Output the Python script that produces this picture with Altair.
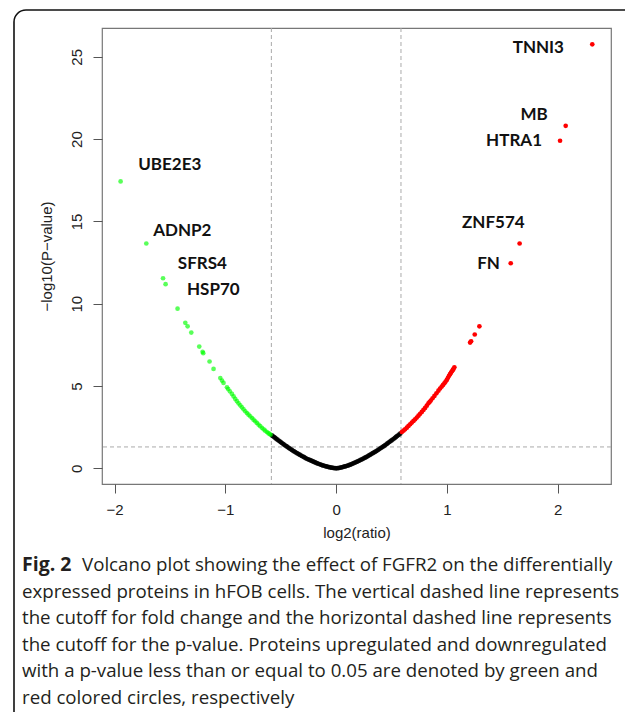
import altair as alt
import pandas as pd

# ---------------- data ----------------
# downregulated (green)
down_x = [-1.946, -1.714, -1.563, -1.540, -1.432, -1.362, -1.341, -1.308, -1.236, -1.206,
          -1.200, -1.143, -1.107, -1.046, -1.031, -1.017, -0.986, -0.975, -0.960, -0.941,
          -0.926, -0.911, -0.896, -0.881, -0.866, -0.851, -0.836, -0.821, -0.806, -0.791,
          -0.776, -0.760, -0.746, -0.731, -0.716, -0.701, -0.686, -0.670, -0.655, -0.641,
          -0.626, -0.612, -0.602, -0.592]
down_y = [17.43, 13.66, 11.55, 11.19, 9.70, 8.84, 8.63, 8.25, 7.40, 7.08,
          7.00, 6.49, 6.04, 5.49, 5.33, 5.19, 4.92, 4.82, 4.68, 4.52,
          4.37, 4.22, 4.08, 3.95, 3.83, 3.71, 3.59, 3.47, 3.36, 3.26,
          3.16, 3.06, 2.96, 2.86, 2.76, 2.66, 2.56, 2.46, 2.37, 2.29,
          2.21, 2.14, 2.09, 2.04]

# not significant (black)
none_x = [-0.58, -0.57, -0.56, -0.55, -0.54, -0.53, -0.52, -0.51, -0.50, -0.49, -0.48, -0.47,
          -0.46, -0.45, -0.44, -0.43, -0.42, -0.41, -0.40, -0.39, -0.38, -0.37, -0.36, -0.35,
          -0.34, -0.33, -0.32, -0.31, -0.30, -0.29, -0.28, -0.27, -0.26, -0.25, -0.24, -0.23,
          -0.22, -0.21, -0.20, -0.19, -0.18, -0.17, -0.16, -0.15, -0.14, -0.13, -0.12, -0.11,
          -0.10, -0.09, -0.08, -0.07, -0.06, -0.05, -0.04, -0.03, -0.02, -0.01, 0.00,
          0.01, 0.02, 0.03, 0.04, 0.05, 0.06, 0.07, 0.08, 0.09, 0.10, 0.11, 0.12, 0.13, 0.14,
          0.15, 0.16, 0.17, 0.18, 0.19, 0.20, 0.21, 0.22, 0.23, 0.24, 0.25, 0.26, 0.27, 0.28,
          0.29, 0.30, 0.31, 0.32, 0.33, 0.34, 0.35, 0.36, 0.37, 0.38, 0.39, 0.40, 0.41, 0.42,
          0.43, 0.44, 0.45, 0.46, 0.47, 0.48, 0.49, 0.50, 0.51, 0.52, 0.53, 0.54, 0.55, 0.56,
          0.57, 0.58]
none_y = [2.00, 1.95, 1.90, 1.85, 1.79, 1.74, 1.69, 1.64, 1.59, 1.54, 1.49, 1.44,
          1.39, 1.35, 1.30, 1.25, 1.21, 1.16, 1.12, 1.07, 1.03, 0.99, 0.95, 0.91,
          0.87, 0.83, 0.79, 0.75, 0.72, 0.68, 0.64, 0.60, 0.57, 0.54, 0.51, 0.48,
          0.45, 0.42, 0.39, 0.36, 0.33, 0.30, 0.28, 0.25, 0.23, 0.20, 0.18, 0.16,
          0.14, 0.12, 0.10, 0.08, 0.07, 0.05, 0.04, 0.03, 0.02, 0.01, 0.00,
          0.01, 0.02, 0.03, 0.05, 0.06, 0.08, 0.10, 0.12, 0.14, 0.16, 0.18, 0.21, 0.23, 0.26,
          0.29, 0.32, 0.35, 0.38, 0.41, 0.44, 0.47, 0.51, 0.54, 0.58, 0.61, 0.65, 0.68, 0.72,
          0.76, 0.80, 0.84, 0.88, 0.92, 0.96, 1.00, 1.04, 1.08, 1.13, 1.17, 1.22, 1.26, 1.31,
          1.35, 1.40, 1.45, 1.50, 1.55, 1.60, 1.65, 1.70, 1.75, 1.80, 1.85, 1.91, 1.96, 2.01,
          2.06, 2.12]

# upregulated (red)
up_x = [2.312, 2.072, 2.021, 1.656, 1.576, 1.293, 1.251, 1.218, 1.209,
        1.067, 1.060, 1.053, 1.045, 1.037, 1.028, 1.019, 1.009, 0.999, 0.988,
        0.977, 0.965, 0.953, 0.938, 0.923, 0.905, 0.887, 0.870, 0.854, 0.843,
        0.833, 0.818, 0.803, 0.788, 0.773, 0.758, 0.743, 0.728, 0.713, 0.698,
        0.683, 0.668, 0.653, 0.638, 0.622, 0.607, 0.593]
up_y = [25.76, 20.81, 19.90, 13.66, 12.46, 8.63, 8.13, 7.72, 7.64,
        6.14, 6.05, 5.98, 5.90, 5.82, 5.72, 5.62, 5.50, 5.37, 5.27,
        5.17, 5.07, 4.97, 4.85, 4.72, 4.56, 4.40, 4.26, 4.12, 4.03,
        3.95, 3.81, 3.67, 3.55, 3.43, 3.31, 3.20, 3.09, 2.98, 2.88,
        2.78, 2.68, 2.58, 2.47, 2.37, 2.29, 2.21]

label_text = ["TNNI3", "MB", "HTRA1", "ZNF574", "FN", "UBE2E3", "ADNP2", "SFRS4", "HSP70"]
label_x = [1.825, 1.786, 1.606, 1.419, 1.376, -1.502, -1.389, -1.208, -1.109]
label_y = [25.53, 21.49, 19.90, 14.89, 12.42, 18.40, 14.40, 12.40, 10.85]

fc_cutoffs = [-0.585, 0.585]
p_cutoff = [1.301]

x_ticks = [-2, -1, 0, 1, 2]
y_ticks = [0, 5, 10, 15, 20, 25]

caption_bold = "Fig. 2"
caption_first = "Volcano plot showing the effect of FGFR2 on the differentially"
caption_rest = [
    "expressed proteins in hFOB cells. The vertical dashed line represents",
    "the cutoff for fold change and the horizontal dashed line represents",
    "the cutoff for the p-value. Proteins upregulated and downregulated",
    "with a p-value less than or equal to 0.05 are denoted by green and",
    "red colored circles, respectively",
]

# ---------------- tables ----------------
pts = pd.concat([
    pd.DataFrame({"x": none_x, "y": none_y, "g": "none"}),
    pd.DataFrame({"x": down_x, "y": down_y, "g": "down"}),
    pd.DataFrame({"x": up_x, "y": up_y, "g": "up"}),
], ignore_index=True)
labels = pd.DataFrame({"t": label_text, "x": label_x, "y": label_y})
vlines = pd.DataFrame({"x": fc_cutoffs})
hlines = pd.DataFrame({"y": p_cutoff})

W, H = 509, 456
xs = alt.Scale(domain=[-2.114, 2.481], nice=False, zero=False)
ys = alt.Scale(domain=[-0.95, 26.75], nice=False, zero=False)

AX_FONT = "Liberation Sans"
xaxis = alt.Axis(values=x_ticks, format="d", title="log2(ratio)", grid=False, domain=False,
                 tickSize=9, tickColor="#555", labelFont=AX_FONT, labelFontSize=15,
                 labelColor="#222", labelPadding=16, labelBaseline="middle",
                 titleFont=AX_FONT, titleFontSize=15, titleFontWeight="normal",
                 titleColor="#222", titleY=48, titleBaseline="middle")
yaxis = alt.Axis(values=y_ticks, format="d", title="\u2212log10(P\u2212value)", grid=False,
                 domain=False, tickSize=9, tickColor="#555", labelFont=AX_FONT,
                 labelFontSize=15, labelColor="#222", labelAngle=270, labelAlign="center",
                 labelBaseline="middle", labelPadding=17,
                 titleFont=AX_FONT, titleFontSize=15, titleFontWeight="normal",
                 titleColor="#222", titleAngle=270, titleX=-56, titleY=H / 2,
                 titleBaseline="middle", titleAlign="center")

points = alt.Chart(pts).mark_circle(size=22, stroke=None).encode(
    x=alt.X("x:Q", scale=xs, axis=xaxis),
    y=alt.Y("y:Q", scale=ys, axis=yaxis),
    color=alt.Color("g:N", scale=alt.Scale(domain=["down", "none", "up"],
                                           range=["#00ff00", "#000000", "#ff0000"]),
                    legend=None),
    opacity=alt.Opacity("g:N", scale=alt.Scale(domain=["down", "none", "up"],
                                               range=[0.65, 1.0, 0.55]),
                        legend=None),
)

vr = alt.Chart(vlines).mark_rule(color="#aaaaaa", strokeDash=[4, 3], strokeWidth=1).encode(
    x=alt.X("x:Q", scale=xs))
hr = alt.Chart(hlines).mark_rule(color="#aaaaaa", strokeDash=[4, 3], strokeWidth=1).encode(
    y=alt.Y("y:Q", scale=ys))

txt = alt.Chart(labels).mark_text(font="Lato", fontWeight="bold", fontSize=17,
                                  color="#111").encode(
    x=alt.X("x:Q", scale=xs), y=alt.Y("y:Q", scale=ys), text="t:N")

# outer rounded frame (decoration, in pixels relative to plot origin)
frame = alt.Chart(pd.DataFrame({"k": [0]})).mark_rect(
    fill=None, stroke="#111", strokeWidth=1.6, cornerRadius=12).encode(
    x=alt.value(-88), x2=alt.value(540), y=alt.value(-18), y2=alt.value(700))

CAP_FONT = "Open Sans"
CAP_SIZE = 18.7
cap_x = -80
cap1 = alt.Chart(pd.DataFrame({"t": [caption_bold]})).mark_text(
    font=CAP_FONT, fontSize=19.5, fontWeight="bold", align="left",
    baseline="alphabetic", color="#231f20").encode(
    x=alt.value(cap_x), y=alt.value(543), text="t:N")
cap2 = alt.Chart(pd.DataFrame({"t": [caption_first]})).mark_text(
    font=CAP_FONT, fontSize=CAP_SIZE, align="left", baseline="alphabetic",
    color="#231f20", dx=60).encode(
    x=alt.value(cap_x), y=alt.value(543), text="t:N")
cap3 = alt.Chart(pd.DataFrame({"t": ["\n".join(caption_rest)]})).mark_text(
    font=CAP_FONT, fontSize=CAP_SIZE, align="left", baseline="alphabetic",
    color="#231f20", lineBreak="\n", lineHeight=26.5).encode(
    x=alt.value(cap_x), y=alt.value(569.5), text="t:N")

chart = alt.layer(frame, vr, hr, points, txt, cap1, cap2, cap3).properties(
    width=W, height=H,
    padding={"left": 94, "top": 20, "right": 14, "bottom": 228},
    autosize=alt.AutoSizeParams(type="none"),
).configure_view(stroke="#777777", strokeWidth=1.2)

chart.save("out.html", embed_options={"renderer": "svg", "actions": False})
